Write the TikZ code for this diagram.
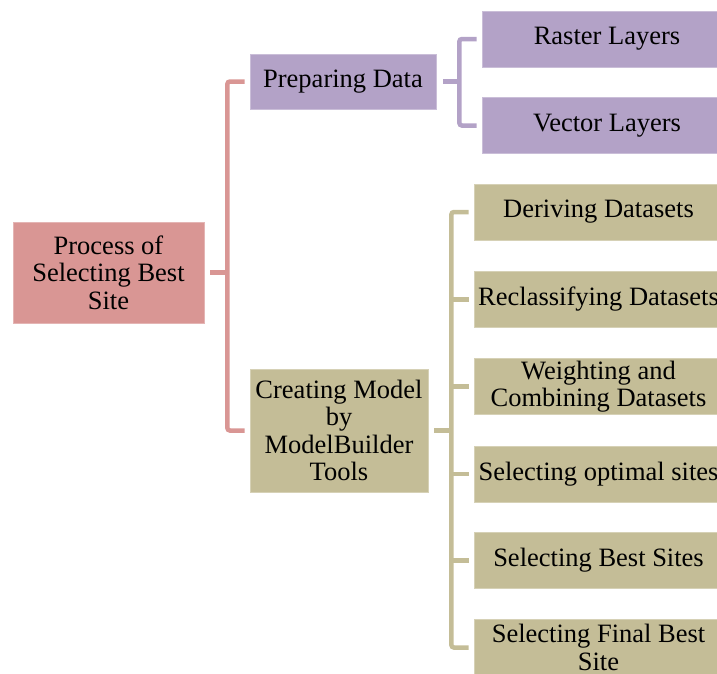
\documentclass[tikz,border=0pt]{standalone}
\usepackage{fontspec}
\setmainfont{Liberation Serif}
\definecolor{pinkc}{HTML}{D99694}
\definecolor{purpc}{HTML}{B3A2C7}
\definecolor{tanc}{HTML}{C4BD97}
\begin{document}
\begin{tikzpicture}[x=1pt,y=-1pt,
  box/.style={fill=#1, draw=#1!70!white, line width=0.8pt, inner sep=0pt, align=center,
    font=\fontsize{26.5}{27.5}\selectfont},
  link/.style={draw=#1, line width=4.5pt, rounded corners=2.5pt}]
\useasboundingbox (0,0) rectangle (717,673);
% nodes
\node[box=pinkc, minimum width=191pt, minimum height=101pt] (root) at (108.5,272.5) {Process of\\Selecting Best\\Site};
\node[box=purpc, minimum width=186pt, minimum height=55pt] (prep) at (343,81.5) {Preparing Data};
\node[box=tanc, minimum width=178pt, minimum height=123pt] (model) at (339,430.5) {Creating Model\\by\\ModelBuilder\\Tools};
\node[box=purpc, minimum width=250pt, minimum height=56pt] (raster) at (607,39) {Raster Layers};
\node[box=purpc, minimum width=250pt, minimum height=56pt] (vector) at (607,125.5) {Vector Layers};
\node[box=tanc, minimum width=249pt, minimum height=56pt] (derive) at (598.5,212) {Deriving Datasets};
\node[box=tanc, minimum width=249pt, minimum height=56pt] (reclass) at (598.5,299.5) {Reclassifying Datasets};
\node[box=tanc, minimum width=249pt, minimum height=56pt] (weight) at (598.5,386.5) {Weighting and\\Combining Datasets};
\node[box=tanc, minimum width=249pt, minimum height=56pt] (optimal) at (598.5,474) {Selecting optimal sites};
\node[box=tanc, minimum width=249pt, minimum height=56pt] (best) at (598.5,560.5) {Selecting Best Sites};
\node[box=tanc, minimum width=249pt, minimum height=56pt] (final) at (598.5,647.5) {Selecting Final Best\\Site};
% bar coordinates
\coordinate (pinkbar) at ([xshift=23pt]root.east);
\coordinate (purpbar) at ([xshift=23pt]prep.east);
\coordinate (tanbar) at ([xshift=23pt]model.east);
% pink connectors
\draw[link=pinkc] ([xshift=-5pt]prep.west) -| (pinkbar) |- ([xshift=-5pt]model.west);
\draw[link=pinkc] ([xshift=6pt]root.east) -- (pinkbar);
% purple connectors
\draw[link=purpc] ([xshift=-5pt]raster.west) -| (purpbar) |- ([xshift=-5pt]vector.west);
\draw[link=purpc] ([xshift=7pt]prep.east) -- (purpbar);
% tan connectors
\draw[link=tanc] ([xshift=-5pt]derive.west) -| (tanbar) |- ([xshift=-5pt]final.west);
\draw[link=tanc] ([xshift=6pt]model.east) -- (tanbar);
\foreach \c in {reclass,weight,optimal,best}
  \draw[link=tanc] ([xshift=-5pt]\c.west) -- (\c.west -| tanbar);
\end{tikzpicture}
\end{document}
